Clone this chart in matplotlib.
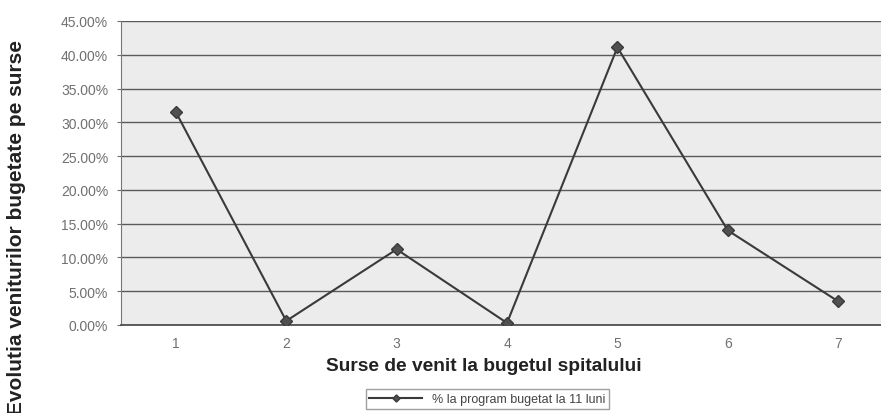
import matplotlib.pyplot as plt
from matplotlib.ticker import FuncFormatter

# Surse de venit (categorii) si procentele realizate
surse = [1, 2, 3, 4, 5, 6, 7]
procente = [31.5, 0.6, 11.2, 0.3, 41.1, 14.0, 3.5]
y_ticks = [0, 5, 10, 15, 20, 25, 30, 35, 40, 45]

plt.rcParams['font.family'] = ['Liberation Sans', 'DejaVu Sans']

fig = plt.figure(figsize=(8.81, 4.14), dpi=100)
ax = fig.add_axes([0.137, 0.2126, 0.877, 0.7344])
ax.set_facecolor('#ececec')

ax.plot(surse, procente, color='#3a3a3a', linewidth=1.5, marker='D',
        markersize=6, markerfacecolor='#505050', markeredgecolor='#3a3a3a',
        label='% la program bugetat la 11 luni', zorder=3)

ax.set_xlim(0.5, 7.5)
ax.set_ylim(0, 45)
ax.set_yticks(y_ticks)
ax.yaxis.set_major_formatter(FuncFormatter(lambda v, p: '%.2f%%' % v))
ax.set_xticks(surse)
ax.grid(axis='y', color='#5a5a5a', linewidth=1.0)
ax.set_axisbelow(True)
for s in ['top', 'right']:
    ax.spines[s].set_visible(False)
ax.spines['left'].set_color('#777777')
ax.spines['bottom'].set_color('#444444')
ax.spines['bottom'].set_linewidth(1.2)
ax.tick_params(axis='y', colors='#707070', labelsize=10, length=3, pad=6)
ax.tick_params(axis='x', colors='#707070', labelsize=10, length=0, pad=8)

ax.set_xlabel('Surse de venit la bugetul spitalului', fontsize=13.8,
              fontweight='bold', color='#222222')
ax.xaxis.set_label_coords(0.47, -0.105)
fig.text(0.019, 0.45, 'Evolutia veniturilor bugetate pe surse', rotation=90,
         fontsize=15, fontweight='bold', color='#222222',
         ha='center', va='center')

leg = fig.legend(loc='center', bbox_to_anchor=(0.553, 0.034), fontsize=9,
                 frameon=True, fancybox=False, edgecolor='#888888',
                 handlelength=4.2, markerscale=0.6, borderpad=0.3)
for t in leg.get_texts():
    t.set_color('#444444')

fig.savefig('out.png', dpi=100)
